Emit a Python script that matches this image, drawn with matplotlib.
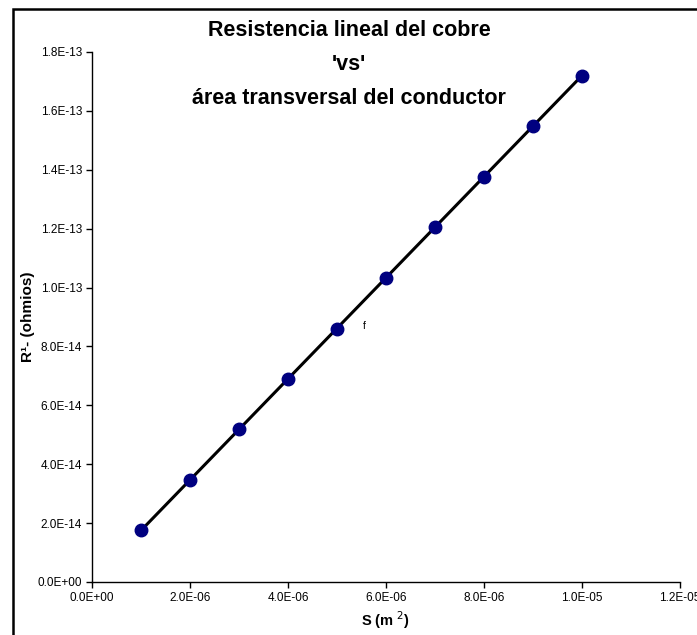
import matplotlib
matplotlib.use("Agg")
import matplotlib.pyplot as plt
from matplotlib.patches import Rectangle
from matplotlib.ticker import FuncFormatter

plt.rcParams['font.family'] = ['Liberation Sans', 'DejaVu Sans']

# area of conductor (m^2) and linear resistance (ohm)
area = [1e-6, 2e-6, 3e-6, 4e-6, 5e-6, 6e-6, 7e-6, 8e-6, 9e-6, 1e-5]
resist = [1.75e-14, 3.45e-14, 5.18e-14, 6.88e-14, 8.6e-14,
          1.032e-13, 1.205e-13, 1.375e-13, 1.547e-13, 1.72e-13]

xticks = [0, 2e-6, 4e-6, 6e-6, 8e-6, 1e-5, 1.2e-5]
yticks = [0, 2e-14, 4e-14, 6e-14, 8e-14, 1e-13, 1.2e-13, 1.4e-13, 1.6e-13, 1.8e-13]

fig = plt.figure(figsize=(6.97, 6.35), dpi=100)
ax = fig.add_axes([92 / 697, 1 - 582 / 635, 588 / 697, 530 / 635])

ax.plot([area[0], area[-1]], [resist[0], resist[-1]], color='black', lw=2.2, zorder=2)
ax.plot(area, resist, 'o', color='#000080', ms=9, zorder=3)

ax.set_xlim(0, 1.2e-5)
ax.set_ylim(0, 1.8e-13)
ax.set_xticks(xticks)
ax.set_yticks(yticks)
ax.xaxis.set_major_formatter(FuncFormatter(lambda v, p: f"{v:.1E}"))
ax.yaxis.set_major_formatter(FuncFormatter(lambda v, p: f"{v:.1E}"))
ax.tick_params(direction='out', length=4, width=1, labelsize=8.5, pad=3)
ax.spines['top'].set_visible(False)
ax.spines['right'].set_visible(False)
for s in ['left', 'bottom']:
    ax.spines[s].set_linewidth(1)

ax.set_xlabel('S (m $^{2}$)', fontsize=10.5, fontweight='bold', labelpad=4)
ax.set_ylabel('R¹- (ohmios)', fontsize=11, fontweight='bold', labelpad=2)

fig.text(349 / 697, 1 - 30 / 635, 'Resistencia lineal del cobre', ha='center', va='center',
         fontsize=15.5, fontweight='bold')
fig.text(349 / 697, 1 - 64 / 635, "'vs'", ha='center', va='center',
         fontsize=15.5, fontweight='bold')
fig.text(349 / 697, 1 - 98 / 635, 'área transversal del conductor', ha='center', va='center',
         fontsize=15.5, fontweight='bold')
fig.text(364 / 697, 1 - 326 / 635, 'f', ha='center', va='center', fontsize=7.5)

# outer chart border, running off the right and bottom edges
fig.patches.append(Rectangle((13 / 697, -0.1), 1.2, 1.1 - 9 / 635, transform=fig.transFigure,
                             fill=False, edgecolor='black', lw=1.8))

fig.savefig('out.png', dpi=100)
